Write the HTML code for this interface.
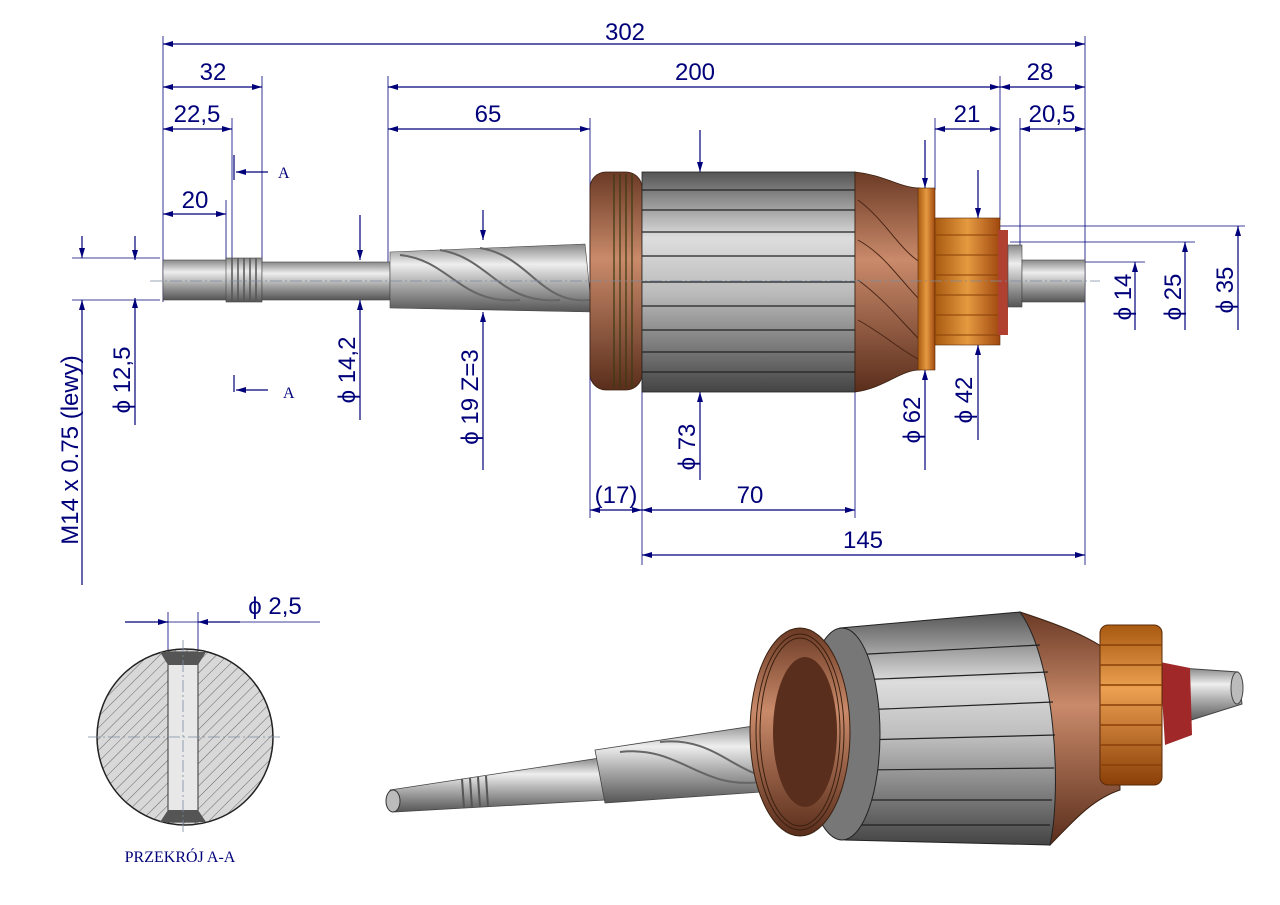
<!DOCTYPE html>
<html><head><meta charset="utf-8"><style>
html,body{margin:0;padding:0;background:#fff;width:1280px;height:905px;overflow:hidden}
svg{display:block}
.d{stroke:#00007a;stroke-width:1.2;fill:none}
.e{stroke:#00007a;stroke-width:0.8;fill:none}
.t{font-family:"Liberation Sans",sans-serif;font-size:24px;fill:#00007a}
.c{stroke:#7a8aa0;stroke-width:0.8;stroke-dasharray:12 3 2 3;fill:none}
</style></head><body>
<svg width="1280" height="905" viewBox="0 0 1280 905">
<defs>
<marker id="a" viewBox="0 0 10 6" refX="10" refY="3" markerWidth="12" markerHeight="6" orient="auto-start-reverse" markerUnits="userSpaceOnUse"><path d="M0,0L10,3L0,6z" fill="#00007a"/></marker>
<linearGradient id="sh" x1="0" y1="0" x2="0" y2="1"><stop offset="0" stop-color="#888"/><stop offset=".3" stop-color="#eee"/><stop offset=".6" stop-color="#aaa"/><stop offset="1" stop-color="#555"/></linearGradient>
<linearGradient id="lam" x1="0" y1="0" x2="0" y2="1"><stop offset="0" stop-color="#555"/><stop offset=".3" stop-color="#ddd"/><stop offset=".55" stop-color="#bbb"/><stop offset="1" stop-color="#444"/></linearGradient>
<linearGradient id="cu" x1="0" y1="0" x2="0" y2="1"><stop offset="0" stop-color="#6b3a25"/><stop offset=".4" stop-color="#c98a6a"/><stop offset="1" stop-color="#5a2e1c"/></linearGradient>
<linearGradient id="or" x1="0" y1="0" x2="1" y2="0"><stop offset="0" stop-color="#a85a10"/><stop offset=".5" stop-color="#e59a40"/><stop offset="1" stop-color="#a04810"/></linearGradient>
<linearGradient id="or2" x1="0" y1="0" x2="0" y2="1"><stop offset="0" stop-color="#a85a10"/><stop offset=".4" stop-color="#eca050"/><stop offset="1" stop-color="#8a4008"/></linearGradient>
<pattern id="h" width="8" height="8" patternUnits="userSpaceOnUse" patternTransform="rotate(45)"><rect width="8" height="8" fill="#d8d8d8"/><line x1="0" y1="0" x2="0" y2="8" stroke="#666" stroke-width="1"/></pattern>
</defs>

<g class="e">
<line x1="163" y1="36" x2="163" y2="302"/>
<line x1="262" y1="76" x2="262" y2="262"/>
<line x1="232" y1="118" x2="232" y2="262"/>
<line x1="226" y1="200" x2="226" y2="262"/>
<line x1="388" y1="76" x2="388" y2="262"/>
<line x1="590" y1="118" x2="590" y2="518"/>
<line x1="642" y1="380" x2="642" y2="565"/>
<line x1="855" y1="380" x2="855" y2="518"/>
<line x1="1000" y1="76" x2="1000" y2="220"/>
<line x1="1085" y1="36" x2="1085" y2="565"/>
<line x1="1020" y1="118" x2="1020" y2="245"/>
<line x1="935" y1="118" x2="935" y2="190"/>
<line x1="72" y1="258" x2="160" y2="258"/>
<line x1="72" y1="300" x2="160" y2="300"/>
<line x1="1000" y1="226" x2="1245" y2="226"/>
<line x1="1010" y1="242" x2="1195" y2="242"/>
<line x1="1085" y1="262" x2="1145" y2="262"/>
</g>

<g class="d">
<line x1="163" y1="44" x2="1085" y2="44" marker-start="url(#a)" marker-end="url(#a)"/>
<line x1="163" y1="87" x2="262" y2="87" marker-start="url(#a)" marker-end="url(#a)"/>
<line x1="388" y1="87" x2="1000" y2="87" marker-start="url(#a)" marker-end="url(#a)"/>
<line x1="1000" y1="87" x2="1085" y2="87" marker-start="url(#a)" marker-end="url(#a)"/>
<line x1="163" y1="129" x2="232" y2="129" marker-start="url(#a)" marker-end="url(#a)"/>
<line x1="388" y1="129" x2="590" y2="129" marker-start="url(#a)" marker-end="url(#a)"/>
<line x1="935" y1="129" x2="1000" y2="129" marker-start="url(#a)" marker-end="url(#a)"/>
<line x1="1020" y1="129" x2="1085" y2="129" marker-start="url(#a)" marker-end="url(#a)"/>
<line x1="163" y1="214" x2="226" y2="214" marker-start="url(#a)" marker-end="url(#a)"/>
<line x1="590" y1="510" x2="642" y2="510" marker-start="url(#a)" marker-end="url(#a)"/>
<line x1="642" y1="510" x2="855" y2="510" marker-start="url(#a)" marker-end="url(#a)"/>
<line x1="642" y1="555" x2="1085" y2="555" marker-start="url(#a)" marker-end="url(#a)"/>
<line x1="234" y1="155" x2="234" y2="180"/><line x1="268" y1="172" x2="236" y2="172" marker-end="url(#a)"/>
<line x1="234" y1="375" x2="234" y2="392"/><line x1="268" y1="390" x2="236" y2="390" marker-end="url(#a)"/>
<line x1="82" y1="236" x2="82" y2="258" marker-end="url(#a)"/><line x1="82" y1="322" x2="82" y2="300" marker-end="url(#a)"/><line x1="82" y1="322" x2="82" y2="585"/>
<line x1="135" y1="236" x2="135" y2="260" marker-end="url(#a)"/><line x1="135" y1="322" x2="135" y2="298" marker-end="url(#a)"/><line x1="135" y1="322" x2="135" y2="425"/>
<line x1="360" y1="215" x2="360" y2="260" marker-end="url(#a)"/><line x1="360" y1="330" x2="360" y2="300" marker-end="url(#a)"/><line x1="360" y1="330" x2="360" y2="420"/>
<line x1="483" y1="210" x2="483" y2="240" marker-end="url(#a)"/><line x1="483" y1="340" x2="483" y2="312" marker-end="url(#a)"/><line x1="483" y1="340" x2="483" y2="470"/>
<line x1="700" y1="130" x2="700" y2="172" marker-end="url(#a)"/><line x1="700" y1="420" x2="700" y2="392" marker-end="url(#a)"/><line x1="700" y1="420" x2="700" y2="480"/>
<line x1="925" y1="140" x2="925" y2="188" marker-end="url(#a)"/><line x1="925" y1="400" x2="925" y2="370" marker-end="url(#a)"/><line x1="925" y1="400" x2="925" y2="470"/>
<line x1="978" y1="170" x2="978" y2="218" marker-end="url(#a)"/><line x1="978" y1="375" x2="978" y2="345" marker-end="url(#a)"/><line x1="978" y1="375" x2="978" y2="440"/>
<line x1="1135" y1="290" x2="1135" y2="262" marker-end="url(#a)"/><line x1="1135" y1="290" x2="1135" y2="330"/>
<line x1="1185" y1="265" x2="1185" y2="242" marker-end="url(#a)"/><line x1="1185" y1="265" x2="1185" y2="330"/>
<line x1="1238" y1="250" x2="1238" y2="226" marker-end="url(#a)"/><line x1="1238" y1="250" x2="1238" y2="330"/>
</g>

<g class="t" text-anchor="middle">
<text x="625" y="40">302</text><text x="213" y="80">32</text><text x="695" y="80">200</text><text x="1040" y="80">28</text>
<text x="197" y="122">22,5</text><text x="488" y="122">65</text><text x="967" y="122">21</text><text x="1052" y="122">20,5</text>
<text x="195" y="208">20</text><text x="616" y="503">(17)</text><text x="750" y="503">70</text><text x="863" y="548">145</text>
<text transform="translate(78,450) rotate(-90)">M14 x 0.75  (lewy)</text>
<text transform="translate(130,380) rotate(-90)">ϕ  12,5</text>
<text transform="translate(355,370) rotate(-90)">ϕ  14,2</text>
<text transform="translate(478,397) rotate(-90)">ϕ  19  Z=3</text>
<text transform="translate(695,447) rotate(-90)">ϕ  73</text>
<text transform="translate(920,420) rotate(-90)">ϕ  62</text>
<text transform="translate(972,400) rotate(-90)">ϕ  42</text>
<text transform="translate(1131,297) rotate(-90)">ϕ  14</text>
<text transform="translate(1181,297) rotate(-90)">ϕ  25</text>
<text transform="translate(1233,290) rotate(-90)">ϕ  35</text>
<text x="275" y="614">ϕ  2,5</text>
</g>
<g font-family="Liberation Serif,serif" font-size="16" fill="#00007a"><text x="278" y="178">A</text><text x="283" y="398">A</text></g>

<rect x="163" y="260" width="65" height="40" fill="url(#sh)" stroke="#444" stroke-width=".6"/>
<rect x="226" y="258" width="36" height="44" fill="url(#sh)" stroke="#444" stroke-width=".6"/>
<g stroke="#555" stroke-width="1.5"><line x1="232" y1="258" x2="232" y2="302"/><line x1="238" y1="258" x2="238" y2="302"/><line x1="244" y1="258" x2="244" y2="302"/><line x1="250" y1="258" x2="250" y2="302"/><line x1="256" y1="258" x2="256" y2="302"/></g>
<rect x="262" y="262" width="128" height="38" fill="url(#sh)" stroke="#444" stroke-width=".6"/>
<path d="M390,252 L585,244 L592,312 L390,308 Z" fill="url(#sh)" stroke="#444" stroke-width=".6"/>
<g stroke="#666" stroke-width="2" fill="none"><path d="M400,255 C450,260 460,305 520,300"/><path d="M440,250 C490,258 500,305 560,300"/><path d="M480,248 C530,256 540,305 590,300"/></g>
<rect x="590" y="172" width="52" height="218" rx="16" fill="url(#cu)" stroke="#3a2010" stroke-width=".8"/>
<g stroke="#3a3a10" stroke-width="1.2"><line x1="614" y1="174" x2="614" y2="388"/><line x1="620" y1="174" x2="620" y2="388"/><line x1="626" y1="174" x2="626" y2="388"/><line x1="632" y1="174" x2="632" y2="388"/></g>
<rect x="642" y="172" width="213" height="220" fill="url(#lam)" stroke="#222" stroke-width=".8"/>
<g stroke="#222" stroke-width="1.2"><line x1="642" y1="190" x2="855" y2="190"/><line x1="642" y1="210" x2="855" y2="210"/><line x1="642" y1="232" x2="855" y2="232"/><line x1="642" y1="256" x2="855" y2="256"/><line x1="642" y1="282" x2="855" y2="282"/><line x1="642" y1="306" x2="855" y2="306"/><line x1="642" y1="330" x2="855" y2="330"/><line x1="642" y1="352" x2="855" y2="352"/><line x1="642" y1="372" x2="855" y2="372"/></g>
<path d="M855,172 C885,175 900,188 920,188 L920,370 C900,370 885,388 855,392 Z" fill="url(#cu)" stroke="#3a2010" stroke-width=".8"/>
<g stroke="#4a2515" stroke-width="1" fill="none"><path d="M858,200 C885,220 900,250 920,262"/><path d="M858,240 C885,255 900,280 920,300"/><path d="M858,280 C885,300 900,320 920,340"/><path d="M858,320 C885,335 900,350 920,360"/></g>
<rect x="918" y="188" width="17" height="182" fill="url(#or)" stroke="#5a2a08" stroke-width=".6"/>
<rect x="935" y="218" width="65" height="127" fill="url(#or)" stroke="#5a2a08" stroke-width=".6"/>
<g stroke="#8a4008" stroke-width="1"><line x1="935" y1="235" x2="1000" y2="235"/><line x1="935" y1="255" x2="1000" y2="255"/><line x1="935" y1="275" x2="1000" y2="275"/><line x1="935" y1="295" x2="1000" y2="295"/><line x1="935" y1="315" x2="1000" y2="315"/><line x1="935" y1="335" x2="1000" y2="335"/></g>
<rect x="998" y="230" width="10" height="105" fill="#b04030"/>
<rect x="1008" y="245" width="14" height="62" fill="url(#sh)" stroke="#444" stroke-width=".6"/>
<rect x="1022" y="260" width="63" height="42" fill="url(#sh)" stroke="#444" stroke-width=".6"/>
<line class="c" x1="150" y1="281" x2="1100" y2="281"/>

<line class="e" x1="125" y1="622" x2="320" y2="622"/>
<line class="d" x1="125" y1="622" x2="168" y2="622" marker-end="url(#a)"/>
<line class="d" x1="240" y1="622" x2="198" y2="622" marker-end="url(#a)"/>
<line class="e" x1="168" y1="612" x2="168" y2="660"/><line class="e" x1="198" y1="612" x2="198" y2="660"/>
<circle cx="185" cy="737" r="88" fill="url(#h)" stroke="#222" stroke-width="1.5"/>
<rect x="168" y="652" width="30" height="170" fill="#e8e8e8" stroke="#333" stroke-width="1"/>
<path d="M160,652 L206,652 L198,665 L168,665 Z M160,822 L206,822 L198,810 L168,810 Z" fill="#555"/>
<line class="c" x1="88" y1="737" x2="282" y2="737"/>
<line class="c" x1="183" y1="640" x2="183" y2="835"/>
<text x="180" y="862" text-anchor="middle" font-family="Liberation Serif,serif" font-size="16" fill="#00007a">PRZEKRÓJ A-A</text>

<!-- 3D view -->
<path d="M390,790 L600,758 L605,800 L395,812 Z" fill="url(#sh)" stroke="#444" stroke-width=".8"/>
<ellipse cx="393" cy="801" rx="7" ry="11" fill="#bbb" stroke="#333"/>
<g stroke="#555" stroke-width="2"><line x1="462" y1="779" x2="464" y2="808"/><line x1="470" y1="778" x2="472" y2="808"/><line x1="478" y1="777" x2="480" y2="807"/><line x1="486" y1="776" x2="488" y2="807"/></g>
<path d="M595,750 L780,722 L790,790 L605,803 Z" fill="url(#sh)" stroke="#444" stroke-width=".8"/>
<g stroke="#666" stroke-width="2" fill="none"><path d="M620,752 C680,745 700,790 760,782"/><path d="M660,742 C720,735 740,785 790,778"/></g>
<!-- winding + commutator (behind) -->
<path d="M1020,612 C1060,625 1100,640 1118,660 L1120,790 C1090,800 1070,825 1050,845 Z" fill="url(#cu)" stroke="#3a2010"/>
<path d="M1180,668 L1238,672 L1242,704 L1185,722 Z" fill="url(#sh)" stroke="#444"/>
<ellipse cx="1237" cy="688" rx="6" ry="16" fill="#bbb" stroke="#444"/>
<path d="M1160,662 L1190,668 L1192,735 L1165,745 Z" fill="#a02828"/>
<rect x="1100" y="625" width="62" height="160" rx="8" fill="url(#or2)" stroke="#5a2a08"/>
<g stroke="#8a4008" stroke-width="1.5"><line x1="1100" y1="645" x2="1162" y2="645"/><line x1="1100" y1="665" x2="1162" y2="665"/><line x1="1100" y1="685" x2="1162" y2="685"/><line x1="1100" y1="705" x2="1162" y2="705"/><line x1="1100" y1="725" x2="1162" y2="725"/><line x1="1100" y1="745" x2="1162" y2="745"/><line x1="1100" y1="765" x2="1162" y2="765"/></g>
<!-- lamination -->
<path d="M840,628 L1020,612 C1055,660 1062,790 1050,845 L845,840 Z" fill="url(#lam)" stroke="#222"/>
<g stroke="#222" stroke-width="1.2"><line x1="850" y1="655" x2="1040" y2="645"/><line x1="855" y1="680" x2="1048" y2="672"/><line x1="860" y1="710" x2="1053" y2="702"/><line x1="860" y1="740" x2="1055" y2="735"/><line x1="858" y1="770" x2="1054" y2="768"/><line x1="855" y1="800" x2="1052" y2="800"/><line x1="850" y1="825" x2="1050" y2="825"/></g>
<ellipse cx="842" cy="734" rx="38" ry="106" fill="#777" stroke="#222"/>
<!-- copper front ring -->
<ellipse cx="800" cy="732" rx="50" ry="104" fill="url(#cu)" stroke="#3a2010"/>
<ellipse cx="805" cy="732" rx="32" ry="75" fill="#5a2e1c"/>
<g stroke="#3a2010" stroke-width="1" fill="none"><ellipse cx="800" cy="732" rx="44" ry="98"/><ellipse cx="800" cy="732" rx="40" ry="94"/></g>
</svg>
</body></html>
